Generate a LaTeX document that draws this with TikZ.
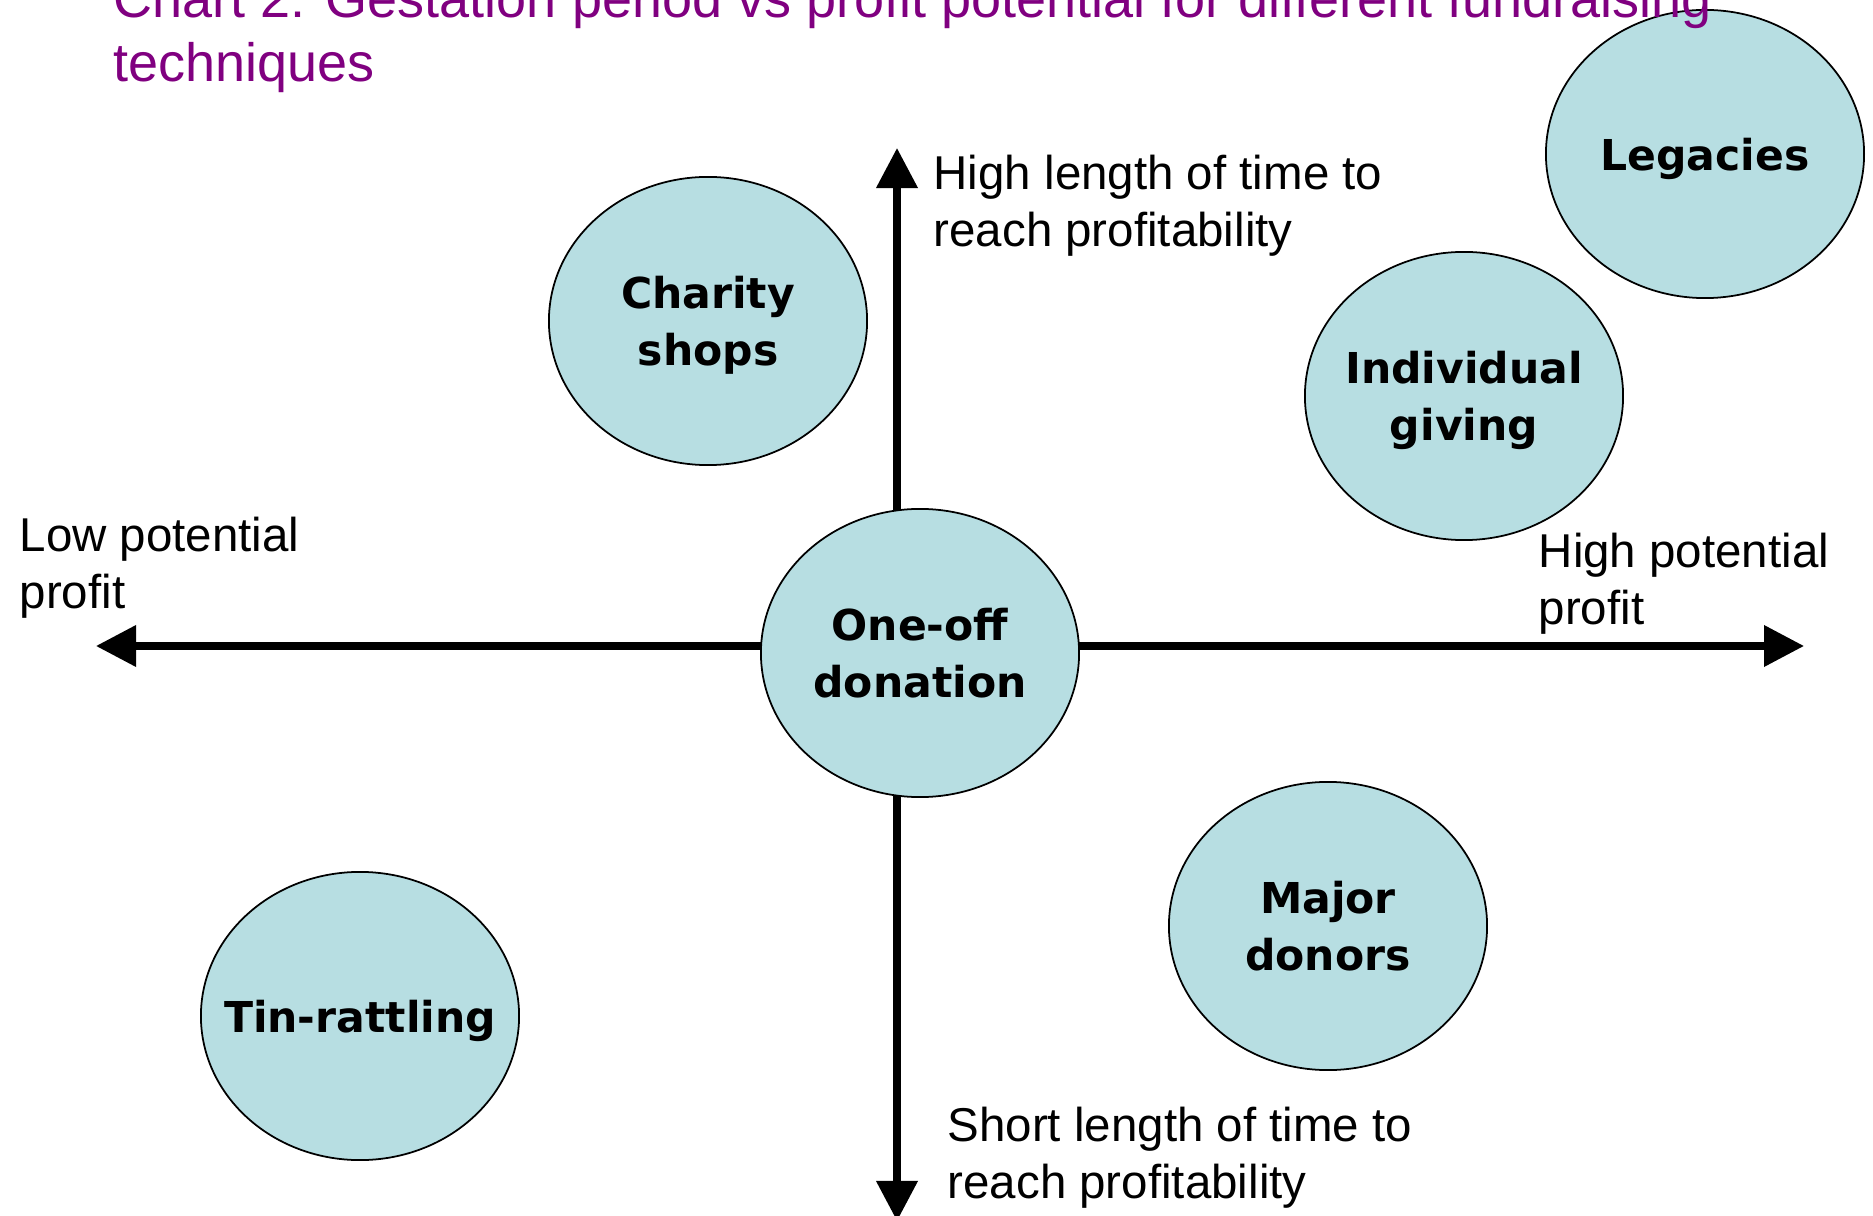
\documentclass[tikz,border=0pt]{standalone}
\usepackage{fontspec}
\setmainfont{Liberation Sans}
\newfontfamily\ovalfont{DejaVu Sans}
\usetikzlibrary{shapes.geometric,arrows.meta}
\definecolor{ovalblue}{RGB}{183,222,226}
\definecolor{titlepurple}{RGB}{128,0,128}

\begin{document}
\begin{tikzpicture}[x=0.01cm, y=-0.01cm,
    techniquetext/.style={inner sep=0pt, align=center, text depth=0pt,
        font=\ovalfont\bfseries\fontsize{12.1}{16.2}\selectfont},
    technique/.style={ellipse, draw=black, line width=0.5pt, fill=ovalblue,
        minimum width=3.18cm, minimum height=2.88cm, inner sep=0pt,
        label={[techniquetext]center:#1}},
    axislabel/.style={anchor=north west, inner sep=0pt, align=left,
        font=\fontsize{13.5}{16.2}\selectfont},
    axis/.style={line width=2pt,
        {Triangle[length=0.4cm, width=0.4cm]}-{Triangle[length=0.4cm, width=0.4cm]}}]
\useasboundingbox (0,0) rectangle (1873,1216);

% Axes: profit left to right, gestation top to bottom
\coordinate (lowend) at (96,646);
\coordinate (highend) at (1804,646);
\coordinate (topend) at (897,148);
\coordinate (bottomend) at (897,1221);
\draw[axis] (lowend) -- (highend);
\draw[axis] (topend) -- (bottomend);

% Axis labels
\node[axislabel] (lowlabel) at (19,516) {Low potential\\profit};
\node[axislabel] (highlabel) at (1538,532) {High potential\\profit};
\node[axislabel] (longlabel) at (933,154) {High length of time to\\reach profitability};
\node[axislabel] (shortlabel) at (947,1106) {Short length of time to\\reach profitability};

% Fundraising techniques
\node[technique={Charity\\shops}] (charity) at (708,321) {};
\node[technique={Legacies}] (legacies) at (1705,154) {};
\node[technique={Individual\\giving}] (individual) at (1464,396) {};
\node[technique={One-off\\donation}] (oneoff) at (920,653) {};
\node[technique={Major\\donors}] (major) at (1328,926) {};
\node[technique={Tin-rattling}] (tin) at (360,1016) {};

% Title, cut by the top edge
\node[anchor=north west, inner sep=0pt, align=left, text=titlepurple,
    font=\fontsize{15.36}{18.2}\selectfont] (title) at (113,-22)
    {Chart 2: Gestation period vs profit potential for different fundraising\\techniques};
\end{tikzpicture}
\end{document}
